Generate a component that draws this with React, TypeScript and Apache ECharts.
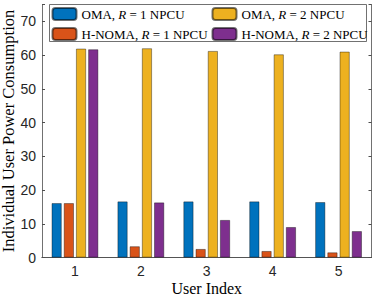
import React, { useEffect, useRef } from "react";
import * as echarts from "echarts";

const categories = ["1", "2", "3", "4", "5"];
const omaR1 = [16.1, 16.6, 16.6, 16.6, 16.4];
const hnomaR1 = [16.1, 3.3, 2.5, 1.9, 1.5];
const omaR2 = [61.9, 62.0, 61.2, 60.2, 61.0];
const hnomaR2 = [61.7, 16.3, 11.1, 9.0, 7.8];
const yTicks = [0, 10, 20, 30, 40, 50, 60, 70];

const seriesNames = ["OMA, R = 1 NPCU", "H-NOMA, R = 1 NPCU", "OMA, R = 2 NPCU", "H-NOMA, R = 2 NPCU"];
const colors = ["#0072BD", "#D95319", "#EDB120", "#7E2F8E"];

const serif = "'Liberation Serif', 'DejaVu Serif', serif";
const sans = "'Liberation Sans', Arial, sans-serif";
const axisColor = "#4d4d4d";

export default function App() {
  const ref = useRef<HTMLDivElement>(null);
  useEffect(() => {
    document.body.style.margin = "0";
    const chart = echarts.init(ref.current!, null, { renderer: "svg" });
    const legendFmt = (name: string) => {
      const parts = name.split("R");
      return `{n|${parts[0]}}{i|R}{n|${parts[1]}}`;
    };
    const fs = 13;
    const legendText = {
      fontFamily: serif,
      fontSize: fs,
      color: "#000",
      rich: {
        n: { fontFamily: serif, fontSize: fs, color: "#000" },
        i: { fontFamily: serif, fontSize: fs, fontStyle: "italic", color: "#000" },
      },
    };
    const dataSets = [omaR1, hnomaR1, omaR2, hnomaR2];
    const legendBase = {
      orient: "vertical",
      top: 7,
      padding: 0,
      itemWidth: 24,
      itemHeight: 12,
      itemGap: 6,
      formatter: legendFmt,
      textStyle: legendText,
      z: 5,
    };
    chart.setOption({
      animation: false,
      grid: {
        left: 42,
        right: 2.5,
        top: 4.5,
        bottom: 38.5,
        containLabel: false,
        outerBoundsMode: "none",
      },
      legend: [
        { ...legendBase, data: [seriesNames[0], seriesNames[1]], left: 51.5 },
        { ...legendBase, data: [seriesNames[2], seriesNames[3]], left: 211.5 },
      ],
      graphic: [
        {
          type: "rect",
          shape: { x: 49.5, y: 4.5, width: 317, height: 37 },
          style: { fill: "#fff", stroke: axisColor, lineWidth: 0.8 },
          z: 3,
        },
      ],
      xAxis: [
        {
          type: "category",
          data: categories,
          name: "User Index",
          nameLocation: "middle",
          nameGap: 23,
          nameMoveOverlap: false,
          nameTextStyle: { fontFamily: serif, fontSize: 16, color: "#000", verticalAlign: "top", lineHeight: 16 },
          axisLine: { lineStyle: { color: axisColor, width: 0.8 } },
          axisTick: { inside: true, alignWithLabel: true, length: 3, lineStyle: { color: axisColor } },
          axisLabel: { fontFamily: sans, fontSize: 14, color: "#262626", margin: 6 },
        },
        {
          type: "category",
          data: categories,
          position: "top",
          axisLine: { show: true, lineStyle: { color: axisColor, width: 0.8 } },
          axisTick: { inside: true, alignWithLabel: true, length: 3, lineStyle: { color: axisColor } },
          axisLabel: { show: false },
        },
      ],
      yAxis: [
        {
          type: "value",
          min: 0,
          max: 75,
          interval: 10,
          name: "Individual User Power Consumption",
          nameLocation: "middle",
          nameGap: 25,
          nameMoveOverlap: false,
          nameTextStyle: { fontFamily: serif, fontSize: 16.5, color: "#000", lineHeight: 17 },
          axisLine: { show: true, lineStyle: { color: axisColor, width: 0.8 } },
          axisTick: { show: true, inside: true, length: 3, lineStyle: { color: axisColor } },
          axisLabel: {
            fontFamily: sans,
            fontSize: 14,
            color: "#262626",
            margin: 6,
            formatter: (v: number) => (yTicks.includes(v) ? String(v) : ""),
          },
          splitLine: { show: false },
        },
        {
          type: "value",
          min: 0,
          max: 75,
          interval: 10,
          position: "right",
          axisLine: { show: true, lineStyle: { color: axisColor, width: 0.8 } },
          axisTick: { show: true, inside: true, length: 3, lineStyle: { color: axisColor } },
          axisLabel: { show: false },
          splitLine: { show: false },
        },
      ],
      series: seriesNames.map((name, i) => ({
        name,
        type: "bar",
        data: dataSets[i],
        barWidth: 10,
        barGap: "22%",
        itemStyle: { color: colors[i], borderColor: "rgba(0,0,0,0.55)", borderWidth: 0.7 },
      })),
    });
    return () => chart.dispose();
  }, []);
  return (
    <div
      ref={ref}
      style={{ position: "absolute", left: 0, top: 0, width: 374, height: 296 }}
    />
  );
}
